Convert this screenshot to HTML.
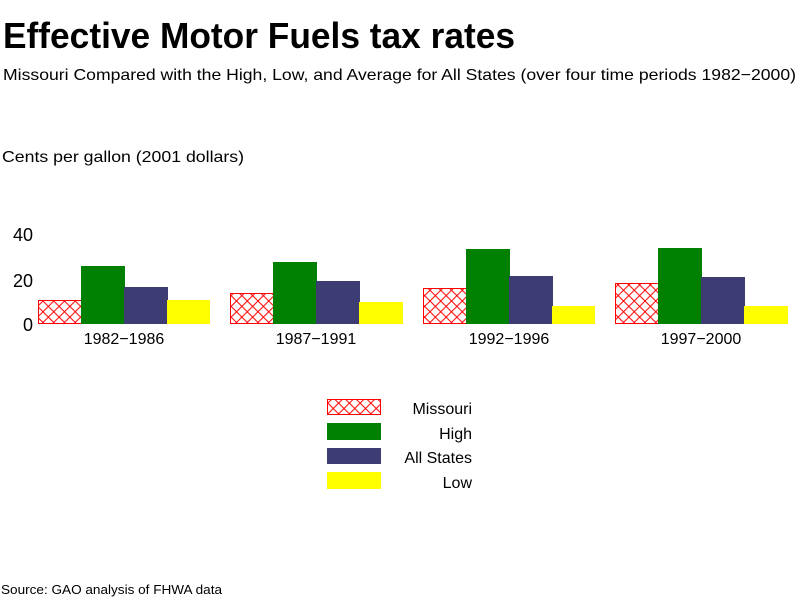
<!DOCTYPE html>
<html><head><style>
body{margin:0;background:#fff;width:800px;height:600px;overflow:hidden;font-family:"Liberation Sans",sans-serif}
</style></head><body>
<svg width="800" height="600" xmlns="http://www.w3.org/2000/svg" font-family="Liberation Sans, sans-serif">
<defs>
<pattern id="x" width="10.75" height="10.75" patternUnits="userSpaceOnUse">
<rect width="10.75" height="10.75" fill="#fff"/>
<path d="M0 0L10.75 10.75M10.75 0L0 10.75" stroke="#f00" stroke-width="1"/>
</pattern>
</defs>
<text x="3" y="48" font-size="36" font-weight="bold" textLength="512" lengthAdjust="spacingAndGlyphs">Effective Motor Fuels tax rates</text>
<text x="3" y="80" font-size="16" textLength="793" lengthAdjust="spacingAndGlyphs">Missouri Compared with the High, Low, and Average for All States (over four time periods 1982−2000)</text>
<text x="2" y="162" font-size="16" textLength="242" lengthAdjust="spacingAndGlyphs">Cents per gallon (2001 dollars)</text>
<g font-size="18" text-anchor="end">
<text x="33" y="241">40</text><text x="33" y="287">20</text><text x="33" y="331">0</text>
</g>
<g font-size="16" text-anchor="middle">
<text x="124" y="344">1982−1986</text><text x="316" y="344">1987−1991</text>
<text x="509" y="344">1992−1996</text><text x="701" y="344">1997−2000</text>
</g>
<rect x="38.5" y="300.5" width="43" height="23" fill="url(#x)" stroke="#f00"/>
<rect x="81" y="266" width="44" height="58" fill="#008000"/>
<rect x="124" y="287" width="44" height="37" fill="#3d3d73"/>
<rect x="167" y="300" width="43" height="24" fill="#ffff00"/>
<rect x="230.5" y="293.5" width="43" height="30" fill="url(#x)" stroke="#f00"/>
<rect x="273" y="262" width="44" height="62" fill="#008000"/>
<rect x="316" y="281" width="44" height="43" fill="#3d3d73"/>
<rect x="359" y="302" width="44" height="22" fill="#ffff00"/>
<rect x="423.5" y="288.5" width="43" height="35" fill="url(#x)" stroke="#f00"/>
<rect x="466" y="249" width="44" height="75" fill="#008000"/>
<rect x="509" y="276" width="44" height="48" fill="#3d3d73"/>
<rect x="552" y="306" width="43" height="18" fill="#ffff00"/>
<rect x="615.5" y="283.5" width="43" height="40" fill="url(#x)" stroke="#f00"/>
<rect x="658" y="248" width="44" height="76" fill="#008000"/>
<rect x="701" y="277" width="44" height="47" fill="#3d3d73"/>
<rect x="744" y="306" width="44" height="18" fill="#ffff00"/>
<rect x="327.5" y="399.5" width="53" height="15" fill="url(#x)" stroke="#f00"/>
<rect x="327" y="423" width="54" height="17" fill="#008000"/>
<rect x="327" y="448" width="54" height="16" fill="#3d3d73"/>
<rect x="327" y="472" width="54" height="17" fill="#ffff00"/>
<g font-size="16" text-anchor="end">
<text x="472" y="414">Missouri</text><text x="472" y="439">High</text>
<text x="472" y="463">All States</text><text x="472" y="488">Low</text>
</g>
<text x="1" y="594" font-size="13" textLength="221" lengthAdjust="spacingAndGlyphs">Source: GAO analysis of FHWA data</text>
</svg>
</body></html>
